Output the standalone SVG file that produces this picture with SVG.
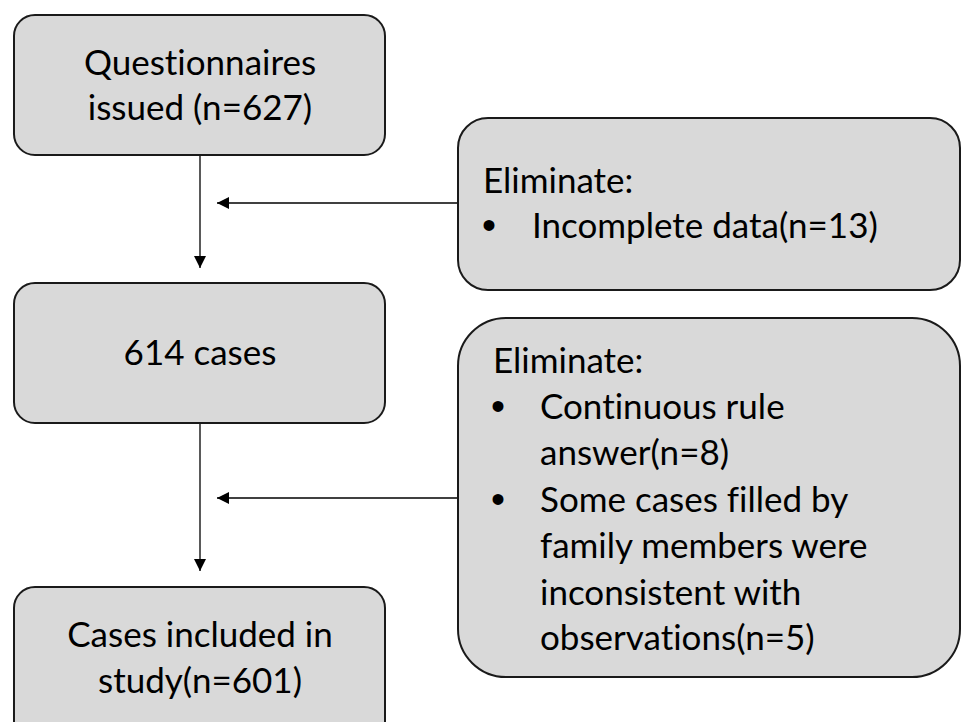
<svg xmlns="http://www.w3.org/2000/svg" width="962" height="722" viewBox="0 0 962 722">
<defs>
<style>
.box{fill:#d9d9d9;stroke:#1a1a1a;stroke-width:2}
.t{font-family:Lato,"Liberation Sans",sans-serif;font-size:35px;fill:#000;font-variant-ligatures:none;font-feature-settings:"liga" 0}
.c{text-anchor:middle}
.b{font-family:"Liberation Sans",sans-serif;font-size:40px;fill:#000}
.ln{stroke:#000;stroke-width:1.3;fill:none}
</style>
<marker id="ah" markerUnits="userSpaceOnUse" markerWidth="14" markerHeight="14" refX="12" refY="6" orient="auto">
<path d="M0,0 L12,6 L0,12 Z" fill="#000"/>
</marker>
</defs>
<rect width="962" height="722" fill="#fff"/>
<g id="connectors">
<line class="ln" x1="200" y1="155" x2="200" y2="268" marker-end="url(#ah)"/>
<line class="ln" x1="458" y1="203" x2="217" y2="203" marker-end="url(#ah)"/>
<line class="ln" x1="200" y1="423" x2="200" y2="571" marker-end="url(#ah)"/>
<line class="ln" x1="458" y1="498" x2="217" y2="498" marker-end="url(#ah)"/>
</g>
<g id="n1">
<rect class="box" x="14" y="15" width="371" height="140" rx="21"/>
<text class="t c" x="200" y="75">Questionnaires</text>
<text class="t c" x="200" y="120">issued (n=627)</text>
</g>
<g id="n2">
<rect class="box" x="14" y="283" width="371" height="140" rx="21"/>
<text class="t c" x="200" y="365">614 cases</text>
</g>
<g id="n3">
<rect class="box" x="14" y="587" width="371" height="160" rx="21"/>
<text class="t c" x="200" y="647">Cases included in</text>
<text class="t c" x="200" y="693">study(n=601)</text>
</g>
<g id="e1">
<rect class="box" x="458" y="118" width="502" height="172" rx="30"/>
<text class="t" x="483" y="193">Eliminate:</text>
<text class="b" x="482" y="239">•</text>
<text class="t" x="532" y="238">Incomplete data(n=13)</text>
</g>
<g id="e2">
<rect class="box" x="458" y="318" width="502" height="359" rx="48"/>
<text class="t" x="493" y="373">Eliminate:</text>
<text class="b" x="491" y="420">•</text>
<text class="t" x="540" y="419">Continuous rule</text>
<text class="t" x="540" y="465">answer(n=8)</text>
<text class="b" x="491" y="513">•</text>
<text class="t" x="540" y="512">Some cases filled by</text>
<text class="t" x="540" y="558">family members were</text>
<text class="t" x="540" y="605">inconsistent with</text>
<text class="t" x="540" y="650">observations(n=5)</text>
</g>
</svg>
